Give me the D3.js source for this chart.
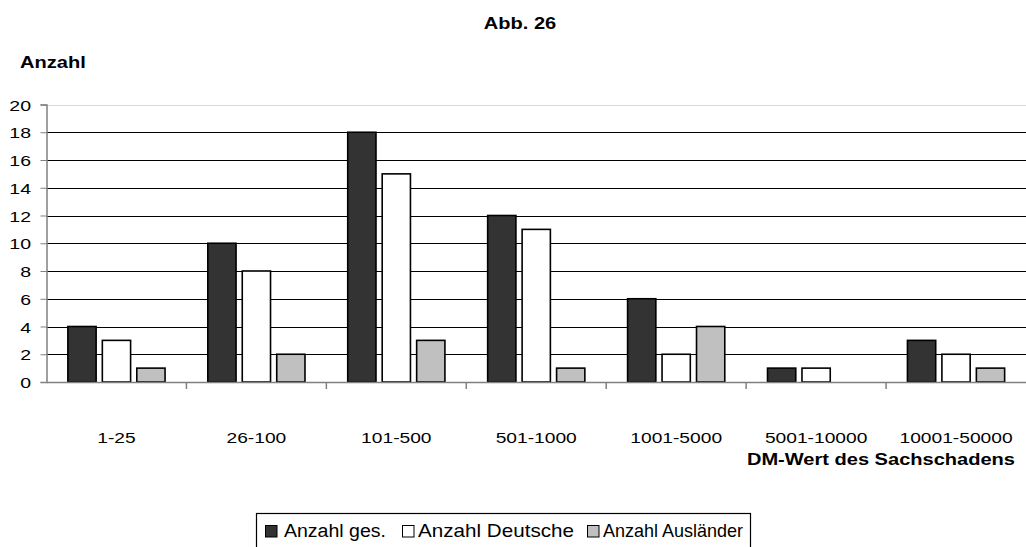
<!DOCTYPE html>
<html><head><meta charset="utf-8">
<script src="https://cdn.jsdelivr.net/npm/d3@7"></script>
<style>body{margin:0;background:#fff}svg{display:block;font-family:"Liberation Sans",Arial,sans-serif}</style>
</head><body><svg id="c" width="1026" height="547"></svg>
<script>
const categories = ["1-25","26-100","101-500","501-1000","1001-5000","5001-10000","10001-50000"];
const seriesNames = ["Anzahl ges.","Anzahl Deutsche","Anzahl Ausländer"];
const gesamt = [4,10,18,12,6,1,3];
const deutsche = [3,8,15,11,2,1,2];
const auslaender = [1,2,3,1,4,0,1];
const yTicks = [0,2,4,6,8,10,12,14,16,18,20];
const colors = ["#333333","#ffffff","#c0c0c0"];

const svg = d3.select("#c");
const L = 46.5, R = 1026, T = 104.5, B = 382;
const x = d3.scaleBand().domain(categories).range([L, R]).paddingInner(0).paddingOuter(0);
const y = d3.scaleLinear().domain([0,20]).range([B, T]);
const xs = d3.scaleBand().domain(seriesNames).range([0, x.bandwidth()]).paddingOuter(0.62).paddingInner(0.18);

// horizontally stretched text placed at (px,py)
function stext(parent, px, py, str, size, k, anchor, weight){
  const g = parent.append("g").attr("transform",`translate(${px},${py}) scale(${k},1)`);
  return g.append("text").attr("text-anchor",anchor||"start").attr("font-size",size)
    .attr("font-weight",weight||"normal").attr("fill","#000").text(str);
}

// gridlines
svg.append("g").selectAll("line").data(yTicks.filter(d=>d>0)).join("line")
  .attr("x1", L).attr("x2", R).attr("y1", d=>Math.round(y(d))+0.5).attr("y2", d=>Math.round(y(d))+0.5)
  .attr("stroke", d=>d===20?"#d8d8d8":"#000").attr("stroke-width",1);

// bars
const data = [gesamt, deutsche, auslaender];
data.forEach((vals, si) => {
  svg.append("g").selectAll("rect").data(vals.map((v,i)=>({v,c:categories[i]})).filter(d=>d.v>0)).join("rect")
    .attr("x", d=>x(d.c)+xs(seriesNames[si]))
    .attr("y", d=>y(d.v))
    .attr("width", xs.bandwidth())
    .attr("height", d=>B - y(d.v))
    .attr("fill", colors[si]).attr("stroke","#000").attr("stroke-width",1.6);
});

// y axis
const ky = 1.3;
const ya = d3.axisLeft(y).tickValues(yTicks).tickSize(6).tickPadding(0);
const gy = svg.append("g").attr("transform",`translate(${L},0)`).call(ya);
gy.select(".domain").attr("stroke","#808080").attr("stroke-width",1.5);
gy.selectAll(".tick line").attr("stroke","#808080");
gy.selectAll("text").attr("font-size",15).attr("fill","#000").attr("dy",null).attr("y",5.5)
  .attr("x",-15.5/ky).attr("transform",`scale(${ky},1)`)
  .attr("font-family","Liberation Sans, Arial, sans-serif");

// x axis
const kx = 1.28;
const xa = d3.axisBottom(x).tickSize(0).tickPadding(0);
const gx = svg.append("g").attr("transform",`translate(0,${B})`).call(xa);
gx.select(".domain").attr("stroke","#808080").attr("stroke-width",1.5);
gx.selectAll("text").attr("font-size",15).attr("fill","#000").attr("dy",null).attr("y",61)
  .attr("transform",`scale(${kx},1)`)
  .attr("font-family","Liberation Sans, Arial, sans-serif");
// category separators
svg.append("g").selectAll("line").data(categories.slice(1)).join("line")
  .attr("x1", d=>x(d)).attr("x2", d=>x(d)).attr("y1", B).attr("y2", B+7)
  .attr("stroke","#808080").attr("stroke-width",1.5);

// titles
stext(svg, 520, 28.5, "Abb. 26", 17, 1.18, "middle", "bold");
stext(svg, 20, 67.5, "Anzahl", 17, 1.18, "start", "bold");
stext(svg, 1015, 465, "DM-Wert des Sachschadens", 17, 1.18, "end", "bold");

// legend
const lg = svg.append("g");
lg.append("rect").attr("x",256.5).attr("y",513.5).attr("width",494).attr("height",40).attr("fill","#fff").attr("stroke","#000").attr("stroke-width",1.2);
const legendSq = [265, 402, 587];
const legendTx = [284, 418, 603];
const legendW = [102, 156, 140];
seriesNames.forEach((n,i)=>{
  lg.append("rect").attr("x",legendSq[i]+0.5).attr("y",525.5).attr("width",11.5).attr("height",11.5).attr("fill",colors[i]).attr("stroke","#000").attr("stroke-width",1);
  const t = lg.append("text").attr("x",legendTx[i]).attr("y",537.5).attr("font-size",18).text(n);
  const w = t.node().getComputedTextLength();
  t.attr("transform",`translate(${legendTx[i]},0) scale(${legendW[i]/w},1) translate(${-legendTx[i]},0)`);
});
</script></body></html>
